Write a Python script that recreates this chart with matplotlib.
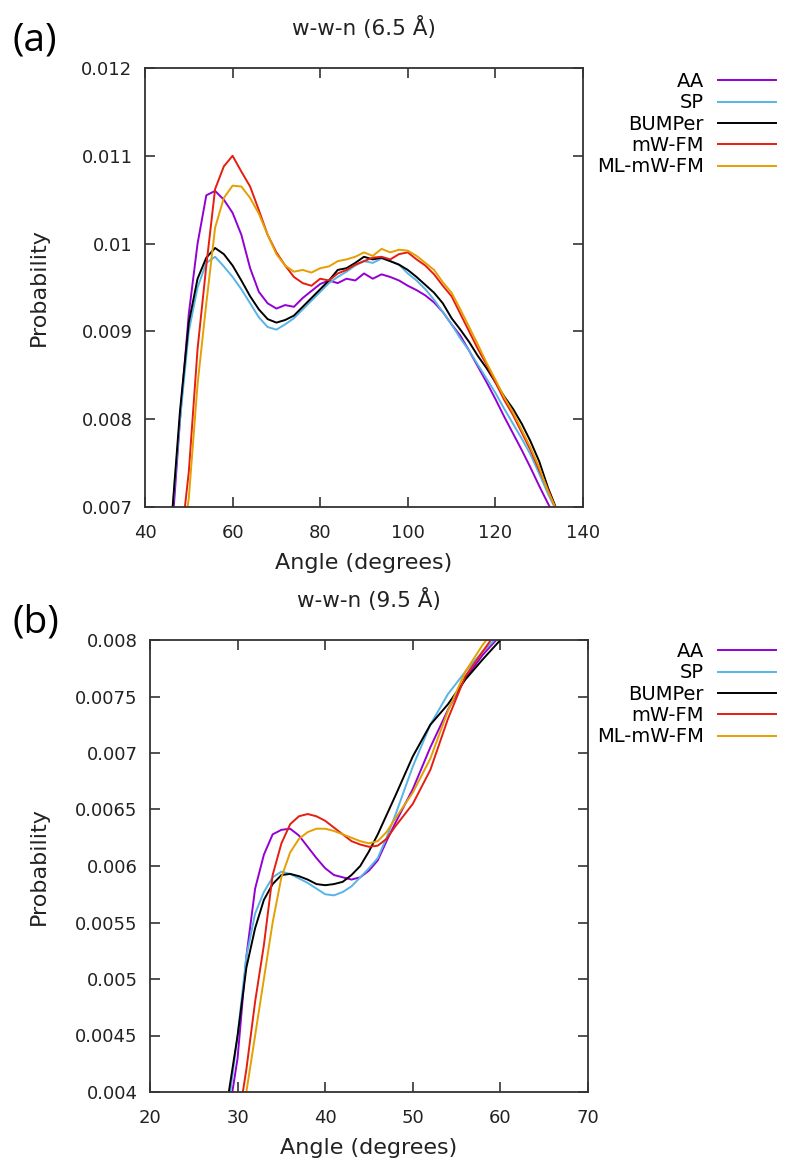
import matplotlib
matplotlib.use("Agg")
import matplotlib.pyplot as plt
from matplotlib.ticker import FuncFormatter

# ---- panel (a): w-w-n (6.5 A) ----
angle_a = [44, 46, 48, 50, 52, 54, 56, 58, 60, 62, 64, 66, 68, 70, 72, 74, 76, 78,
           80, 82, 84, 86, 88, 90, 92, 94, 96, 98, 100, 102, 104, 106, 108, 110,
           112, 114, 116, 118, 120, 122, 124, 126, 128, 130, 132, 134, 136]

aa_a = [0.0056, 0.0066, 0.0080, 0.0092, 0.0100, 0.01055, 0.0106, 0.01050, 0.01035,
        0.01010, 0.00972, 0.00945, 0.00932, 0.00926, 0.00930, 0.00928, 0.00938,
        0.00946, 0.00954, 0.00958, 0.00955, 0.00960, 0.00958, 0.00966, 0.00960,
        0.00965, 0.00962, 0.00958, 0.00952, 0.00947, 0.00941, 0.00933, 0.00922,
        0.00908, 0.00895, 0.00878, 0.00860, 0.00842, 0.00823, 0.00803, 0.00784,
        0.00765, 0.00745, 0.00724, 0.00704, 0.00685, 0.0067]
sp_a = [0.0058, 0.0068, 0.0080, 0.0090, 0.00950, 0.00978, 0.00985, 0.00974, 0.00962,
        0.00948, 0.00932, 0.00916, 0.00905, 0.00902, 0.00908, 0.00915, 0.00925,
        0.00935, 0.00945, 0.00955, 0.00962, 0.00968, 0.00975, 0.00980, 0.00978,
        0.00983, 0.00980, 0.00976, 0.00966, 0.00958, 0.00948, 0.00936, 0.00922,
        0.00908, 0.00892, 0.00878, 0.00862, 0.00846, 0.00830, 0.00812, 0.00795,
        0.00778, 0.00760, 0.00738, 0.00715, 0.00695, 0.0068]
bumper_a = [0.0058, 0.0068, 0.0081, 0.0091, 0.00960, 0.00984, 0.00995, 0.00988,
            0.00975, 0.00958, 0.00940, 0.00925, 0.00914, 0.00910, 0.00913, 0.00918,
            0.00928, 0.00938, 0.00948, 0.00958, 0.00970, 0.00972, 0.00978, 0.00985,
            0.00982, 0.00984, 0.00980, 0.00976, 0.00970, 0.00962, 0.00953, 0.00944,
            0.00932, 0.00915, 0.00902, 0.00888, 0.00872, 0.00858, 0.00842, 0.00826,
            0.00812, 0.00795, 0.00775, 0.00752, 0.00722, 0.00697, 0.0068]
mwfm_a = [0.0050, 0.0058, 0.0065, 0.0074, 0.0088, 0.00975, 0.01062, 0.01088, 0.01100,
          0.01082, 0.01065, 0.01038, 0.01010, 0.00990, 0.00975, 0.00962, 0.00955,
          0.00952, 0.00960, 0.00958, 0.00966, 0.00970, 0.00976, 0.00980, 0.00984,
          0.00985, 0.00982, 0.00988, 0.00990, 0.00982, 0.00975, 0.00965, 0.00952,
          0.00940, 0.00920, 0.00900, 0.00880, 0.00862, 0.00842, 0.00822, 0.00805,
          0.00785, 0.00765, 0.00742, 0.00720, 0.00695, 0.0068]
mlmwfm_a = [0.0050, 0.0057, 0.0064, 0.0071, 0.0084, 0.00932, 0.01018, 0.01052,
            0.01066, 0.01065, 0.01052, 0.01034, 0.01010, 0.00988, 0.00975, 0.00968,
            0.00970, 0.00967, 0.00972, 0.00974, 0.00980, 0.00982, 0.00985, 0.00990,
            0.00986, 0.00994, 0.00990, 0.00993, 0.00992, 0.00986, 0.00978, 0.00970,
            0.00956, 0.00944, 0.00925, 0.00905, 0.00885, 0.00864, 0.00845, 0.00825,
            0.00808, 0.00788, 0.00768, 0.00745, 0.00718, 0.00696, 0.0068]

# ---- panel (b): w-w-n (9.5 A) ----
angle_b = [28, 29, 30, 31, 32, 33, 34, 35, 36, 37, 38, 39, 40, 41, 42, 43, 44, 45,
           46, 47, 48, 50, 52, 54, 56, 58, 60, 62]

aa_b = [0.0035, 0.0038, 0.0043, 0.0052, 0.0058, 0.0061, 0.00628, 0.00632, 0.00633,
        0.00627, 0.00617, 0.00607, 0.00598, 0.00592, 0.00590, 0.00588, 0.00590,
        0.00596, 0.00605, 0.00622, 0.00638, 0.00668, 0.00705, 0.00738, 0.00766,
        0.00787, 0.00804, 0.0082]
sp_b = [0.0036, 0.0039, 0.0045, 0.0052, 0.00558, 0.00577, 0.00590, 0.00595, 0.00593,
        0.00589, 0.00585, 0.00580, 0.00575, 0.00574, 0.00577, 0.00582, 0.00590,
        0.00598, 0.00607, 0.00625, 0.00645, 0.00688, 0.00725, 0.00752, 0.00772,
        0.00790, 0.00805, 0.0082]
bumper_b = [0.0036, 0.0040, 0.0045, 0.0051, 0.00545, 0.00570, 0.00584, 0.00592,
            0.00593, 0.00591, 0.00588, 0.00584, 0.00583, 0.00584, 0.00586, 0.00592,
            0.00600, 0.00613, 0.00628, 0.00645, 0.00662, 0.00697, 0.00725, 0.00743,
            0.00765, 0.00783, 0.00800, 0.0081]
mwfm_b = [0.0030, 0.0033, 0.0037, 0.0042, 0.0048, 0.0053, 0.00592, 0.00620, 0.00637,
          0.00644, 0.00646, 0.00644, 0.00640, 0.00634, 0.00628, 0.00622, 0.00619,
          0.00617, 0.00618, 0.00624, 0.00635, 0.00655, 0.00685, 0.00730, 0.00768,
          0.00790, 0.00812, 0.0083]
mlmwfm_b = [0.0029, 0.0032, 0.0035, 0.0040, 0.0045, 0.0050, 0.00550, 0.00590,
            0.00612, 0.00624, 0.00630, 0.00633, 0.00633, 0.00631, 0.00628, 0.00625,
            0.00622, 0.00620, 0.00622, 0.00630, 0.00642, 0.00665, 0.00695, 0.00737,
            0.00772, 0.00796, 0.00815, 0.0083]

labels = ["AA", "SP", "BUMPer", "mW-FM", "ML-mW-FM"]
colors = ["#9400d3", "#56b4e9", "#000000", "#e51e10", "#e69f00"]

plt.rcParams['font.family'] = ['DejaVu Sans']
W, H = 787, 1162
fig = plt.figure(figsize=(W / 100, H / 100), dpi=100)

ax_a = fig.add_axes([145 / W, 1 - 507 / H, 438 / W, 439 / H])
ax_b = fig.add_axes([150 / W, 1 - 1092 / H, 438 / W, 452 / H])

panels = [
    (ax_a, angle_a, [aa_a, sp_a, bumper_a, mwfm_a, mlmwfm_a], "w-w-n (6.5 Å)",
     (40, 140), range(40, 141, 20), (0.007, 0.012),
     [0.007, 0.008, 0.009, 0.010, 0.011, 0.012], 72, -0.22),
    (ax_b, angle_b, [aa_b, sp_b, bumper_b, mwfm_b, mlmwfm_b], "w-w-n (9.5 Å)",
     (20, 70), range(20, 71, 10), (0.004, 0.008),
     [0.004 + 0.0005 * i for i in range(9)], 642, -0.23),
]

for ax, xs, series, title, xlim, xticks, ylim, yticks, leg_top, ylab_x in panels:
    for ys, lab, col in zip(series, labels, colors):
        ax.plot(xs, ys, color=col, lw=1.4, label=lab)
    ax.set_xlim(*xlim)
    ax.set_ylim(*ylim)
    ax.set_xticks(list(xticks))
    ax.set_yticks(yticks)
    ax.yaxis.set_major_formatter(FuncFormatter(lambda v, p: f"{round(v, 6):g}"))
    ax.tick_params(direction='in', length=7, width=1.2, top=True, right=True,
                   labelsize=13, colors='#333333', labelcolor='#222222')
    ax.tick_params(axis='y', pad=9)
    ax.tick_params(axis='x', pad=12)
    for s in ax.spines.values():
        s.set_linewidth(1.3)
        s.set_color('#333333')
    ax.set_title(title, fontsize=15.5, pad=24, color='#222222')
    ax.set_xlabel("Angle (degrees)", fontsize=16, labelpad=8, color='#222222')
    ax.set_ylabel("Probability", fontsize=16, color='#222222')
    ax.yaxis.set_label_coords(ylab_x, 0.5)
    ax.legend(loc='upper right', bbox_to_anchor=(776 / W, 1 - leg_top / H),
              bbox_transform=fig.transFigure, frameon=False, markerfirst=False,
              fontsize=14, handlelength=3.0, handletextpad=0.7, labelspacing=0.12,
              borderpad=0, borderaxespad=0)

fig.text(35 / W, 1 - 40 / H, "(a)", fontsize=28, ha='center', va='center',
         family='Open Sans')
fig.text(36 / W, 1 - 622 / H, "(b)", fontsize=28, ha='center', va='center',
         family='Open Sans')

fig.savefig("out.png", dpi=100)
